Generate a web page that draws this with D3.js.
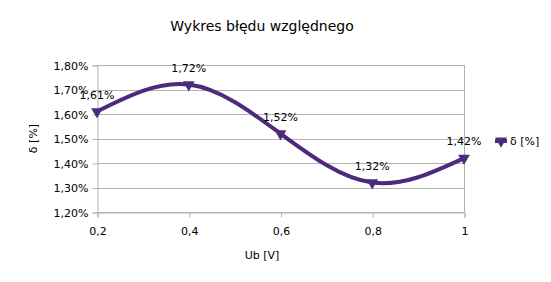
<!DOCTYPE html>
<html>
<head>
<meta charset="utf-8">
<script src="https://cdnjs.cloudflare.com/ajax/libs/d3/7.8.5/d3.min.js"></script>
<style>
  body { margin: 0; background: #fff; }
  svg { font-family: "DejaVu Sans", sans-serif; }
</style>
</head>
<body>
<svg id="chart" width="551" height="282"></svg>
<script>
// data
const ub = [0.2, 0.4, 0.6, 0.8, 1.0];
const delta = [1.61, 1.72, 1.52, 1.32, 1.42];
const xTicks = [0.2, 0.4, 0.6, 0.8, 1.0];
const yTicks = [1.2, 1.3, 1.4, 1.5, 1.6, 1.7, 1.8];

const purple = '#4e2a7c';
const grid = '#b3b3b3';
const fmt = v => v.toFixed(2).replace('.', ',') + '%';
const fmtX = v => (v === 1 ? '1' : String(v).replace('.', ','));

const svg = d3.select('#chart');
const x = d3.scaleLinear().domain([0.2, 1.0]).range([97, 464]);
const y = d3.scaleLinear().domain([1.2, 1.8]).range([212, 65]);

// title
svg.append('text')
  .attr('x', 262).attr('y', 31)
  .attr('text-anchor', 'middle')
  .attr('font-size', 14)
  .text('Wykres błędu względnego');

// gridlines
svg.append('g').selectAll('line')
  .data(yTicks)
  .join('line')
  .attr('x1', x(0.2)).attr('x2', x(1.0))
  .attr('y1', d => Math.round(y(d)) + 0.5).attr('y2', d => Math.round(y(d)) + 0.5)
  .attr('stroke', grid);

// right border
svg.append('line')
  .attr('x1', x(1.0) + 0.5).attr('x2', x(1.0) + 0.5)
  .attr('y1', y(1.8)).attr('y2', y(1.2))
  .attr('stroke', grid);

// axes
const yAxis = svg.append('g')
  .attr('transform', `translate(${x(0.2) + 0.5},0.5)`)
  .call(d3.axisLeft(y).tickValues(yTicks).tickFormat(fmt).tickSize(5).tickPadding(4));
const xAxis = svg.append('g')
  .attr('transform', `translate(0.5,${y(1.2) + 0.5})`)
  .call(d3.axisBottom(x).tickValues(xTicks).tickFormat(fmtX).tickSize(5).tickPadding(10));
[yAxis, xAxis].forEach(a => {
  a.selectAll('path, line').attr('stroke', grid);
  a.selectAll('text').attr('font-size', 11).attr('fill', '#000').attr('font-family', '"DejaVu Sans", sans-serif');
});

// axis titles
svg.append('text')
  .attr('transform', `translate(37,${y(1.5)}) rotate(-90)`)
  .attr('text-anchor', 'middle')
  .attr('font-size', 11)
  .text('δ [%]');
svg.append('text')
  .attr('x', 262).attr('y', 259)
  .attr('text-anchor', 'middle')
  .attr('font-size', 11)
  .text('Ub [V]');

// line
const pts = ub.map((u, i) => [u, delta[i]]);
const line = d3.line().x(d => x(d[0])).y(d => y(d[1])).curve(d3.curveNatural);
svg.append('path')
  .datum(pts)
  .attr('d', line)
  .attr('fill', 'none')
  .attr('stroke', purple)
  .attr('stroke-width', 4);

// markers
const tri = d3.symbol().type(d3.symbolTriangle).size(60);
svg.append('g').selectAll('path')
  .data(pts)
  .join('path')
  .attr('d', tri)
  .attr('transform', d => `translate(${x(d[0])},${y(d[1])}) rotate(180)`)
  .attr('fill', purple);

// data labels
svg.append('g').selectAll('text')
  .data(pts)
  .join('text')
  .attr('x', d => x(d[0]))
  .attr('y', d => y(d[1]) - 13)
  .attr('text-anchor', 'middle')
  .attr('font-size', 11)
  .text(d => fmt(d[1]));

// legend
const lg = svg.append('g').attr('transform', 'translate(495,141)');
lg.append('line').attr('x1', 0).attr('x2', 12).attr('stroke', purple).attr('stroke-width', 4);
lg.append('path').attr('d', tri).attr('transform', 'translate(6,0) rotate(180)').attr('fill', purple);
lg.append('text').attr('x', 15).attr('y', 4).attr('font-size', 11).text('δ [%]');
</script>
</body>
</html>
